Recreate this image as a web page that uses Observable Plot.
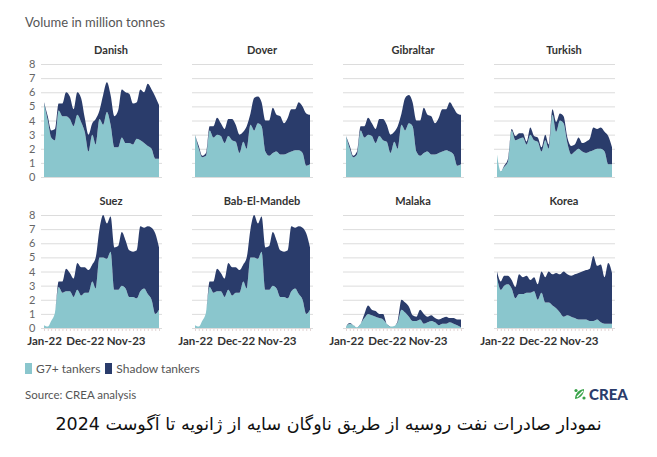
<!DOCTYPE html>
<html><head><meta charset="utf-8">
<script src="https://cdn.jsdelivr.net/npm/d3@7"></script>
<script src="https://cdn.jsdelivr.net/npm/@observablehq/plot@0.6"></script>
<style>
body{margin:0;background:#fff;width:657px;height:457px;position:relative;overflow:hidden;font-family:Lato,"Open Sans",sans-serif;}
#title{position:absolute;left:25px;top:14px;font-size:13px;color:#555;}
#chart{position:absolute;left:0;top:36px;}
#legend{position:absolute;left:25px;top:361px;font-size:12px;color:#555;display:flex;align-items:center;white-space:nowrap;}
.sw{display:inline-block;width:7px;height:11px;margin-right:4px;}
#source{position:absolute;left:25px;top:388px;font-size:11.5px;color:#555;}
#logo{position:absolute;left:573px;top:385px;display:flex;align-items:center;font-family:Lato,sans-serif;font-weight:900;font-size:15px;color:#2a3c6b;}
#caption{position:absolute;left:0;width:657px;top:414px;text-align:center;direction:rtl;font-family:"DejaVu Sans",sans-serif;font-size:17.5px;color:#111;}
</style></head>
<body>
<div id="title">Volume in million tonnes</div>
<div id="chart"></div>
<div id="legend"></div>
<div id="source">Source: CREA analysis</div>
<div id="logo"><svg width="14" height="14" viewBox="0 0 14 14" style="margin-right:2px"><path d="M2 12 C2 7 5 3 11 2 C11 7 8 11 2 12Z" fill="#3aa34a"/><path d="M4 10 L10 4" stroke="#fff" stroke-width="1.3"/><circle cx="3" cy="3.5" r="1.6" fill="#3aa34a"/><circle cx="11" cy="11" r="1.6" fill="#3aa34a"/></svg>CREA</div>
<div id="caption">نمودار صادرات نفت روسیه از طریق ناوگان سایه از ژانویه تا آگوست 2024</div>
<script>
const months = ["2022-01","2022-02","2022-03","2022-04","2022-05","2022-06","2022-07","2022-08","2022-09","2022-10","2022-11","2022-12",
"2023-01","2023-02","2023-03","2023-04","2023-05","2023-06","2023-07","2023-08","2023-09","2023-10","2023-11","2023-12",
"2024-01","2024-02","2024-03","2024-04","2024-05","2024-06","2024-07","2024-08"];
const tickMonths = ["2022-01","2022-12","2023-11"];
const tickLabels = ["Jan-22","Dec-22","Nov-23"];
const yTicks = [0,1,2,3,4,5,6,7,8];
const seriesNames = ["G7+ tankers","Shadow tankers"];
const seriesColors = ["#8ac6cd","#2a3c6b"];
const straits = ["Danish","Dover","Gibraltar","Turkish","Suez","Bab-El-Mandeb","Malaka","Korea"];

const danishG7 = [5.2,4.0,2.8,2.6,4.7,4.3,4.3,4.1,3.6,4.4,3.9,3.2,1.8,3.0,2.3,4.1,3.7,4.6,3.7,2.1,2.1,2.8,2.4,2.4,2.3,2.7,2.6,2.4,2.2,2.0,1.3,1.3];
const danishShadow = [0.1,0.3,0.5,0.8,0.5,0.9,1.7,1.6,1.2,1.6,1.7,1.0,1.2,0.8,1.8,0.6,2.1,2.1,2.1,2.2,2.6,3.4,3.6,3.5,2.9,2.6,3.6,3.6,4.4,4.2,4.4,3.8];
const doverG7 = [3.0,2.0,1.4,1.5,3.3,2.8,3.0,2.9,2.4,2.9,2.6,2.5,1.7,2.5,2.0,3.7,3.3,3.8,3.6,1.8,1.5,1.7,1.8,1.6,1.6,1.7,1.8,1.9,1.9,1.7,0.8,0.9];
const doverShadow = [0.0,0.2,0.1,0.2,0.3,0.8,1.2,0.9,1.0,1.2,1.5,1.2,1.3,0.7,1.6,0.8,2.3,1.9,1.7,2.2,2.5,3.2,2.6,2.7,2.2,2.5,3.0,2.9,3.4,3.3,3.7,3.5];
const gibraltarG7 = [2.9,2.0,1.4,1.6,3.3,2.8,3.0,2.9,2.4,2.9,2.6,2.5,1.7,2.5,2.0,3.7,3.3,3.8,3.6,1.8,1.5,1.7,1.8,1.6,1.6,1.7,1.8,1.9,1.8,1.6,0.8,0.9];
const gibraltarShadow = [0.0,0.2,0.1,0.2,0.3,0.8,1.2,0.9,1.0,1.2,1.5,1.2,1.3,0.7,1.6,0.8,2.3,2.0,1.7,2.2,2.5,3.2,2.6,2.7,2.2,2.5,3.0,2.9,3.5,3.3,3.7,3.5];
const turkishG7 = [1.6,0.4,0.7,1.1,3.3,2.6,2.7,2.8,2.3,3.0,2.6,2.5,1.8,2.6,2.0,4.4,3.2,4.0,3.8,2.4,1.6,1.8,2.0,1.8,1.7,1.8,1.9,2.0,2.0,1.8,0.9,0.9];
const turkishShadow = [0.0,0.0,0.1,0.2,0.1,0.3,0.4,0.3,0.2,0.5,0.3,0.3,0.3,0.4,0.3,0.4,0.7,0.5,0.5,0.4,0.6,0.5,0.8,0.6,0.8,0.9,1.6,1.4,1.5,1.4,2.0,1.2];
const suezG7 = [0.2,0.1,0.5,1.1,2.9,2.5,2.6,2.6,2.2,2.7,2.3,2.5,2.5,3.3,2.8,5.0,5.0,4.9,5.4,2.7,2.7,3.0,2.8,2.2,2.2,2.1,2.6,2.8,2.4,2.0,1.0,1.3];
const suezShadow = [0,0,0,0,0.4,0.8,1.6,1.3,1.3,1.9,2.0,1.8,1.6,1.2,2.2,2.0,3.0,2.5,2.5,3.0,3.1,3.8,3.4,3.3,3.2,3.4,4.6,4.3,4.8,5.1,5.7,4.4];
const babG7 = [0.2,0.1,0.5,1.1,2.9,2.5,2.6,2.6,2.2,2.7,2.3,2.5,2.5,3.3,2.8,5.0,5.0,4.9,5.4,2.7,2.7,3.0,2.8,2.2,2.2,2.1,2.6,2.8,2.4,2.0,1.0,1.3];
const babShadow = [0,0,0,0,0.4,0.8,1.6,1.3,1.3,1.9,2.0,1.8,1.6,1.2,2.2,2.0,3.0,2.5,2.5,3.0,3.1,3.8,3.4,3.3,3.2,3.4,4.6,4.3,4.8,5.1,5.7,4.4];
const malakaG7 = [0.1,0.3,0.2,0.05,0.3,0.7,1.0,0.9,0.8,0.7,0.6,0.3,0.1,0.15,0.4,1.3,1.1,0.8,0.5,0.5,0.6,0.3,0.4,0.5,0.4,0.2,0.3,0.3,0.4,0.3,0.2,0.05];
const malakaShadow = [0,0.05,0,0,0,0.3,0.6,0.4,0.4,0.3,0.4,0,0,0,0.1,0.7,0.7,0.7,0.4,0.3,0.7,0.7,0.4,0.4,0.3,0.4,0.4,0.5,0.3,0.4,0.4,0.55];
const koreaG7 = [3.6,2.7,3.0,3.1,2.8,2.1,2.4,2.4,2.5,2.5,2.6,2.0,2.5,1.8,1.8,1.6,1.4,1.1,0.8,0.9,0.8,0.7,0.6,0.6,0.6,0.5,0.5,0.6,0.4,0.3,0.3,0.3];
const koreaShadow = [0.4,0.6,0.7,0.6,0.6,0.8,1.4,1.2,1.2,0.9,1.0,1.1,1.5,1.8,2.2,2.2,2.5,2.7,3.2,2.9,2.9,3.1,3.3,3.4,3.5,3.7,4.6,3.8,4.1,3.3,4.3,3.6];

const g7List = [danishG7,doverG7,gibraltarG7,turkishG7,suezG7,babG7,malakaG7,koreaG7];
const shadowList = [danishShadow,doverShadow,gibraltarShadow,turkishShadow,suezShadow,babShadow,malakaShadow,koreaShadow];

const toDate = m => new Date(m + "-01T00:00:00Z");
const rows = [];
straits.forEach((name, k) => {
  months.forEach((m, i) => {
    const base = {name, col: k % 4, row: Math.floor(k / 4), date: toDate(m)};
    rows.push({...base, series: seriesNames[0], value: g7List[k][i]});
    rows.push({...base, series: seriesNames[1], value: shadowList[k][i]});
  });
});
const panels = straits.map((name, k) => ({name, col: k % 4, row: Math.floor(k / 4)}));
const labelMap = new Map(tickMonths.map((m, i) => [+toDate(m), tickLabels[i]]));

const plot = Plot.plot({
  width: 657, height: 314,
  marginTop: 28, marginBottom: 22, marginLeft: 40, marginRight: 41,
  facet: {marginTop: 0, marginBottom: 0, marginLeft: 0, marginRight: 0},
  fx: {axis: null, paddingInner: 0.2, paddingOuter: 0},
  fy: {axis: null, paddingInner: 0.2517, paddingOuter: 0},
  x: {type: "utc", domain: [toDate(months[0]), toDate(months[months.length - 1])], inset: 3},
  y: {domain: [0, 8]},
  color: {domain: seriesNames, range: seriesColors},
  style: {fontFamily: "Lato, 'Open Sans', sans-serif", background: "#fff"},
  marks: [
    Plot.gridY(yTicks, {stroke: "#dcdcdc", strokeOpacity: 1}),
    Plot.areaY(rows, {x: "date", y: "value", fill: "series", fx: "col", fy: "row", curve: "monotone-x"}),
    Plot.axisY(yTicks, {tickSize: 0, tickPadding: 6, fontSize: 11, fill: "#666", label: null}),
    Plot.axisX(months.map(toDate), {tickSize: 3, stroke: "#e2d6d6", tickFormat: () => "", label: null}),
    Plot.axisX(tickMonths.map(toDate), {tickSize: 0, tickPadding: 8, tickFormat: d => labelMap.get(+d), fontSize: 11.5, fontWeight: "bold", fill: "#333", label: null}),
    Plot.text(panels, {fx: "col", fy: "row", text: "name", frameAnchor: "top", dy: -18, dx: 9, fontWeight: "bold", fontSize: 11, fill: "#333"})
  ]
});
document.getElementById("chart").appendChild(plot);

const legend = document.getElementById("legend");
seriesNames.forEach((s, i) => {
  const sw = document.createElement("span");
  sw.className = "sw"; sw.style.background = seriesColors[i];
  if (i > 0) sw.style.marginLeft = "5px";
  const t = document.createElement("span");
  t.textContent = s;
  legend.appendChild(sw); legend.appendChild(t);
});
</script>
</body></html>
